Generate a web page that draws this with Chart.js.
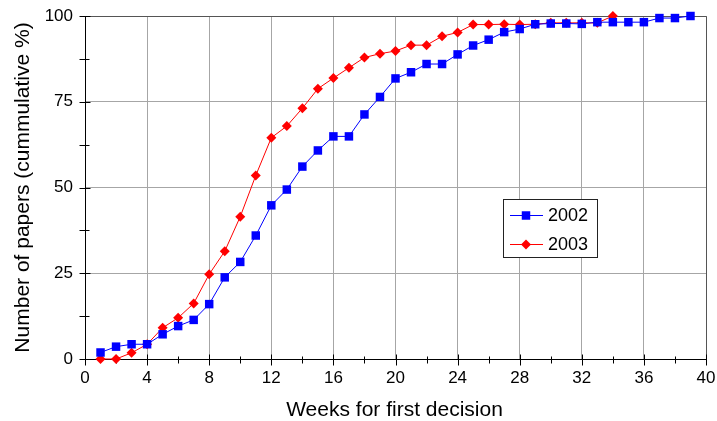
<!DOCTYPE html>
<html>
<head>
<meta charset="utf-8">
<script src="https://cdn.jsdelivr.net/npm/chart.js@4"></script>
<style>
  html, body { margin: 0; padding: 0; background: #fff; }
  #wrap { width: 717px; height: 421px; }
</style>
</head>
<body>
<div id="wrap"><canvas id="decisionChart" width="717" height="421"></canvas></div>
<script>
// weeks until first decision
const weeks2002 = [1, 2, 3, 4, 5, 6, 7, 8, 9, 10, 11, 12, 13, 14, 15, 16, 17, 18, 19, 20,
  21, 22, 23, 24, 25, 26, 27, 28, 29, 30, 31, 32, 33, 34, 35, 36, 37, 38, 39];
const papers2002 = [1.9, 3.6, 4.3, 4.3, 7.2, 9.6, 11.4, 16.0, 23.8, 28.3, 36.0, 44.8, 49.4, 56.1,
  60.8, 64.9, 64.9, 71.3, 76.4, 81.8, 83.6, 86.0, 86.0, 88.8, 91.4, 93.1, 95.3, 96.2,
  97.6, 97.8, 97.8, 97.7, 98.2, 98.2, 98.2, 98.2, 99.4, 99.4, 100];

const weeks2003 = [1, 2, 3, 4, 5, 6, 7, 8, 9, 10, 11, 12, 13, 14, 15, 16, 17, 18, 19, 20,
  21, 22, 23, 24, 25, 26, 27, 28, 29, 30, 31, 32, 33, 34];
const papers2003 = [0, 0, 1.8, 4.3, 9.1, 12.0, 16.2, 24.7, 31.4, 41.5, 53.5, 64.5, 67.9, 73.1,
  78.8, 81.9, 84.9, 87.9, 89.0, 89.8, 91.5, 91.5, 94.1, 95.2, 97.5, 97.5, 97.6, 97.5,
  97.6, 98.0, 98.0, 98.0, 98.0, 100];

const xTicks = [0, 4, 8, 12, 16, 20, 24, 28, 32, 36, 40];
const yTicks = [0, 25, 50, 75, 100];

const xTitle = "Weeks for first decision";
const yTitle = "Number of papers (cummulative %)";

const toPoints = (xs, ys) => xs.map((x, i) => ({ x: x, y: ys[i] }));

const FONT = "Arial, 'Liberation Sans', sans-serif";

// axes, frame and tick marks (drawn under the markers)
const frameAxes = {
  id: "frameAxes",
  beforeDatasetsDraw(chart) {
    const { ctx, chartArea: a, scales: { x, y } } = chart;
    ctx.save();
    ctx.lineWidth = 1;
    ctx.strokeStyle = "#555";
    ctx.beginPath();
    ctx.moveTo(a.left, Math.round(a.top) + 0.5);
    ctx.lineTo(Math.round(a.right) + 0.5, Math.round(a.top) + 0.5);
    ctx.lineTo(Math.round(a.right) + 0.5, a.bottom);
    ctx.stroke();

    ctx.strokeStyle = "#000";
    ctx.beginPath();
    const bx = Math.round(a.left) + 0.5;
    const by = Math.round(a.bottom) + 0.5;
    ctx.moveTo(bx, a.top);
    ctx.lineTo(bx, by);
    ctx.lineTo(a.right + 1, by);
    // x ticks: major every 4, minor every 2
    for (let v = 0; v <= 40; v += 2) {
      const px = Math.round(x.getPixelForValue(v)) + 0.5;
      const big = v % 4 === 0;
      ctx.moveTo(px, by - (big ? 5 : 3));
      ctx.lineTo(px, by + (big ? 6 : 4));
    }
    // y ticks: major every 25, minor every 12.5
    for (let v = 0; v <= 100; v += 12.5) {
      const py = Math.round(y.getPixelForValue(v)) + 0.5;
      const big = v % 25 === 0;
      ctx.moveTo(bx - 6, py);
      ctx.lineTo(bx + (big ? 5 : 4), py);
    }
    ctx.stroke();

    // axis titles
    ctx.fillStyle = "#000";
    ctx.font = "21px " + FONT;
    ctx.textAlign = "center";
    ctx.textBaseline = "alphabetic";
    ctx.fillText(xTitle, (a.left + a.right) / 2 - 1, 416);
    ctx.translate(29, (a.top + a.bottom) / 2);
    ctx.rotate(-Math.PI / 2);
    ctx.fillText(yTitle, 0, 0);
    ctx.restore();
  }
};

// boxed legend inside the plot
const boxLegend = {
  id: "boxLegend",
  afterDraw(chart) {
    const { ctx, chartArea: a } = chart;
    const left = Math.round(a.left + (a.right - a.left) * 0.673);
    const top = Math.round(a.top + (a.bottom - a.top) * 0.534);
    const w = 94, h = 58;
    ctx.save();
    ctx.fillStyle = "#fff";
    ctx.fillRect(left, top, w, h);
    ctx.strokeStyle = "#222";
    ctx.lineWidth = 1;
    ctx.strokeRect(left + 0.5, top + 0.5, w, h);
    chart.data.datasets.forEach((ds, i) => {
      const cy = Math.round(top + 16 + i * 29) + 0.5;
      ctx.strokeStyle = ds.borderColor;
      ctx.beginPath();
      ctx.moveTo(left + 7, cy);
      ctx.lineTo(left + 40, cy);
      ctx.stroke();
      ctx.fillStyle = ds.pointBackgroundColor;
      Chart.helpers.drawPoint(ctx, {
        pointStyle: ds.pointStyle, radius: ds.pointRadius, rotation: 0, borderWidth: 0
      }, left + 23, cy);
      ctx.fillStyle = "#000";
      ctx.font = "18px " + FONT;
      ctx.textBaseline = "middle";
      ctx.fillText(ds.label, left + 45, cy + 1);
    });
    ctx.restore();
  }
};

new Chart(document.getElementById("decisionChart"), {
  type: "line",
  data: {
    datasets: [
      {
        label: "2002",
        data: toPoints(weeks2002, papers2002),
        borderColor: "#0000ff",
        backgroundColor: "#0000ff",
        pointBackgroundColor: "#0000ff",
        pointBorderWidth: 0,
        pointStyle: "rect",
        pointRadius: 6,
        borderWidth: 1,
        tension: 0,
        clip: false
      },
      {
        label: "2003",
        data: toPoints(weeks2003, papers2003),
        borderColor: "#ff0000",
        backgroundColor: "#ff0000",
        pointBackgroundColor: "#ff0000",
        pointBorderWidth: 0,
        pointStyle: "rectRot",
        pointRadius: 5,
        borderWidth: 1,
        tension: 0,
        clip: false
      }
    ]
  },
  options: {
    responsive: false,
    animation: false,
    layout: { padding: { top: 16, right: 11, left: 0, bottom: 0 } },
    plugins: {
      legend: { display: false },
      tooltip: { enabled: false }
    },
    scales: {
      x: {
        type: "linear",
        min: 0,
        max: 40,
        afterBuildTicks: s => { s.ticks = xTicks.map(v => ({ value: v })); },
        afterFit: s => { s.height = 62; s.paddingLeft = 0; s.paddingRight = 0; },
        grid: { color: "#a6a6a6", lineWidth: 1, drawTicks: false },
        border: { display: false },
        ticks: { color: "#000", font: { family: FONT, size: 17 }, padding: 9, maxRotation: 0 }
      },
      y: {
        min: 0,
        max: 100,
        afterBuildTicks: s => { s.ticks = yTicks.map(v => ({ value: v })); },
        afterFit: s => { s.width = 85; s.paddingTop = 0; s.paddingBottom = 0; },
        grid: { color: "#a6a6a6", lineWidth: 1, drawTicks: false },
        border: { display: false },
        ticks: { color: "#000", font: { family: FONT, size: 17 }, padding: 12 }
      }
    }
  },
  plugins: [frameAxes, boxLegend]
});
</script>
</body>
</html>
